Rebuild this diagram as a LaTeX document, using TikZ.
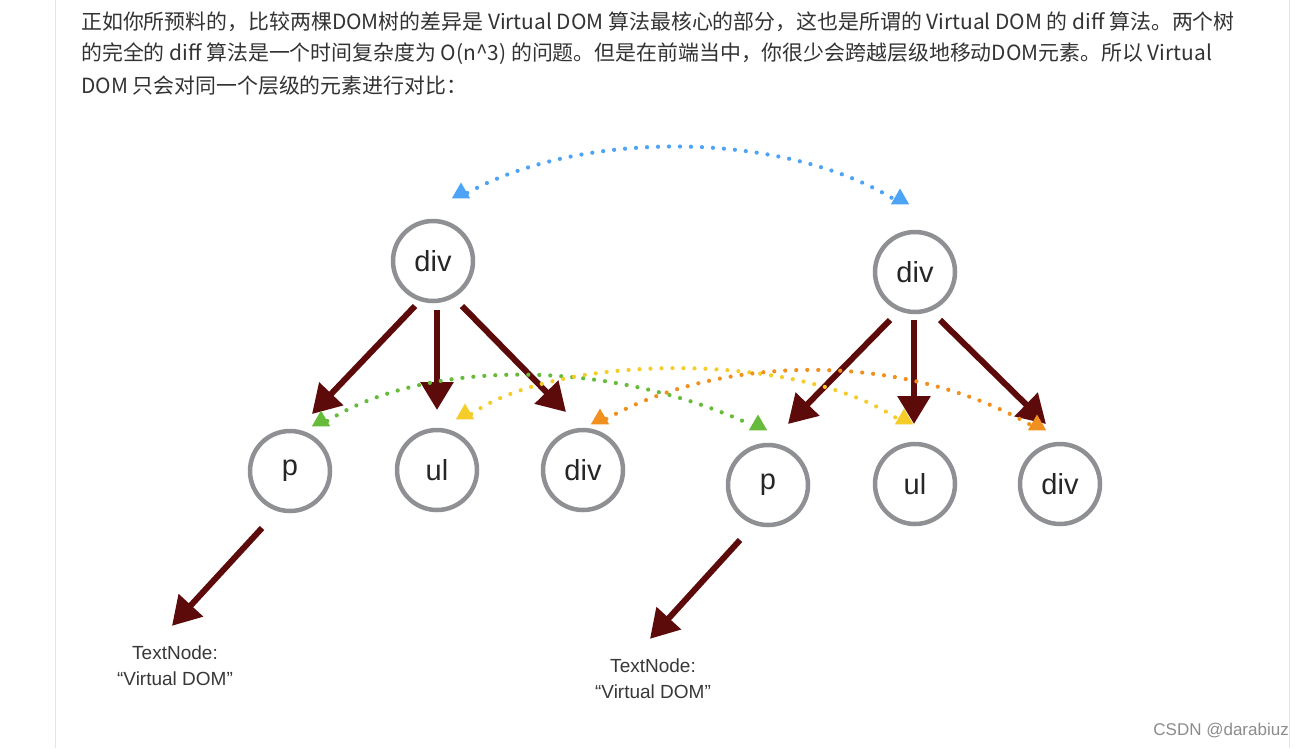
\documentclass[tikz,border=0pt]{standalone}
\usepackage{fontspec}
\setmainfont{Liberation Sans}
\newfontfamily\cjk{Noto Sans CJK SC}
\usetikzlibrary{arrows.meta,shapes.geometric,calc}
\definecolor{bodytxt}{HTML}{333333}
\definecolor{ringgray}{HTML}{8E9093}
\definecolor{treered}{HTML}{5C0A0A}
\definecolor{cblue}{HTML}{4DA3F5}
\definecolor{cgreen}{HTML}{66BB3A}
\definecolor{cyellow}{HTML}{F5CC28}
\definecolor{corange}{HTML}{F0901E}
\definecolor{bordercol}{HTML}{E4E4EC}
\begin{document}
\begin{tikzpicture}[x=1pt,y=-1pt,
  ring/.style={circle,draw=ringgray,line width=4.5pt,minimum size=80pt,inner sep=0pt,
    font=\fontsize{29}{31}\selectfont,text=black!85},
  treearrow/.style={draw=treered,line width=6pt,-{Triangle[length=28pt,width=32pt]}},
  tri/.style={regular polygon,regular polygon sides=3,minimum size=21pt,inner sep=0pt,draw=none},
  dotline/.style={line width=4.2pt,line cap=round,dash pattern=on 0pt off 11pt},
  bodyline/.style={anchor=west,inner sep=0pt,font=\cjk\fontsize{20.9}{24}\selectfont,text=bodytxt},
  leaf/.style={align=center,inner sep=0pt,font=\fontsize{19}{26}\selectfont,text=black!78}
]
\useasboundingbox[fill=white] (0,0) rectangle (1306,748);
\draw[bordercol,line width=1pt] (55.5,0) -- (55.5,748);
\draw[bordercol,line width=1pt] (1289.5,0) -- (1289.5,748);

% body text
\node[bodyline] (l1) at (81,22) {正如你所预料的，比较两棵DOM树的差异是 Virtual DOM 算法最核心的部分，这也是所谓的 Virtual DOM 的 diff 算法。两个树};
\node[bodyline] (l2) at (81,54) {的完全的 diff 算法是一个时间复杂度为 O(n\^{}3) 的问题。但是在前端当中，你很少会跨越层级地移动DOM元素。所以 Virtual};
\node[bodyline] (l3) at (81,86) {DOM 只会对同一个层级的元素进行对比：};

% tree nodes
\node[ring] (d1) at (433,261) {div};
\node[ring] (d2) at (915,272) {div};
\node[ring] (p1) at (290,471) {p};
\node[ring] (u1) at (437,470) {ul};
\node[ring] (v1) at (583,470) {div};
\node[ring] (p2) at (768,485) {p};
\node[ring] (u2) at (915,484) {ul};
\node[ring] (v2) at (1060,484) {div};
\node[leaf] (t1) at (175,666) {TextNode:\\“Virtual DOM”};
\node[leaf] (t2) at (653,679) {TextNode:\\“Virtual DOM”};

% tree arrows
\draw[treearrow] ($(d1)+(-18,45)$) -- ($(p1)+(22,-57)$);
\draw[treearrow] ($(d1)+(4,49)$) -- ($(u1)+(0,-60)$);
\draw[treearrow] ($(d1)+(29,45)$) -- ($(v1)+(-17,-58)$);
\draw[treearrow] ($(d2)+(-25,48)$) -- ($(p2)+(20,-61)$);
\draw[treearrow] ($(d2)+(-1,48)$) -- ($(u2)+(-1,-60)$);
\draw[treearrow] ($(d2)+(25,48)$) -- ($(v2)+(-14,-60)$);
\draw[treearrow] ($(p1)+(-28,57)$) -- ($(t1.north)+(-3,-20)$);
\draw[treearrow] ($(p2)+(-28,55)$) -- ($(t2.north)+(-3,-20)$);

% comparison triangles
\node[tri,fill=cblue] (bl) at (461,193) {};
\node[tri,fill=cblue] (br) at (900,199) {};
\node[tri,fill=cgreen] (gl) at (321,421) {};
\node[tri,fill=cgreen] (gr) at (758,425) {};
\node[tri,fill=cyellow] (yl) at (465,414) {};
\node[tri,fill=cyellow] (yr) at (904,419) {};
\node[tri,fill=corange] (ol) at (600,419) {};
\node[tri,fill=corange] (or) at (1037,425) {};

% dotted comparison arcs
\draw[dotline,cblue] (bl.east) .. controls (580,130) and (780,130) .. (br.west);
\draw[dotline,cgreen] (gl.east) .. controls (420,362) and (600,355) .. (gr.west);
\draw[dotline,cyellow] (yl.east) .. controls (560,352) and (800,352) .. (yr.west);
\draw[dotline,corange] (ol.east) .. controls (720,355) and (900,350) .. (or.west);

% watermark
\node[anchor=east,inner sep=0pt,font=\fontsize{17}{19}\selectfont,text=black!45] (wm) at (1289,731) {CSDN @darabiuz};
\end{tikzpicture}
\end{document}
